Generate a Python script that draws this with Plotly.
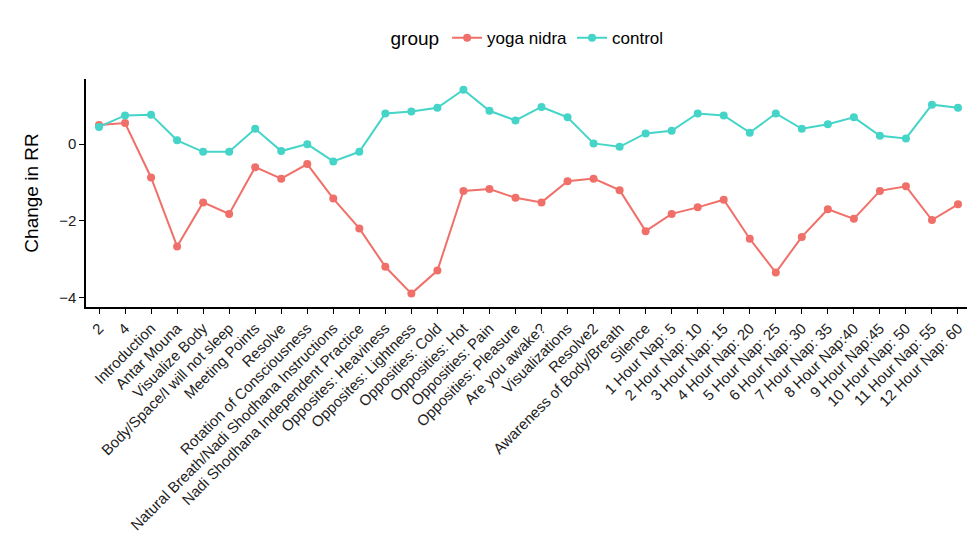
import plotly.graph_objects as go

categories = ["2", "4", "Introduction", "Antar Mouna", "Visualize Body", "Body/Space/I will not sleep",
              "Meeting Points", "Resolve", "Rotation of Consciousness",
              "Natural Breath/Nadi Shodhana Instructions", "Nadi Shodhana Independent Practice",
              "Opposites: Heaviness", "Opposites: Lightness", "Opposities: Cold", "Opposities: Hot",
              "Opposities: Pain", "Opposities: Pleasure", "Are you awake?", "Visualizations", "Resolve2",
              "Awareness of Body/Breath", "Silence", "1 Hour Nap: 5", "2 Hour Nap: 10", "3 Hour Nap: 15",
              "4 Hour Nap: 20", "5 Hour Nap: 25", "6 Hour Nap: 30", "7 Hour Nap: 35", "8 Hour Nap:40",
              "9 Hour Nap:45", "10 Hour Nap: 50", "11 Hour Nap: 55", "12 Hour Nap: 60"]

yoga_nidra = [0.5, 0.55, -0.87, -2.67, -1.52, -1.82, -0.6, -0.9, -0.52, -1.42, -2.2, -3.2, -3.9, -3.3,
              -1.22, -1.17, -1.4, -1.52, -0.97, -0.9, -1.2, -2.27, -1.82, -1.65, -1.45, -2.47, -3.35,
              -2.42, -1.7, -1.95, -1.22, -1.1, -1.98, -1.57]

control = [0.45, 0.75, 0.77, 0.1, -0.2, -0.2, 0.4, -0.18, 0.0, -0.45, -0.2, 0.8, 0.85, 0.95, 1.42,
           0.87, 0.62, 0.97, 0.7, 0.02, -0.07, 0.28, 0.35, 0.8, 0.75, 0.3, 0.8, 0.4, 0.52, 0.7, 0.22,
           0.15, 1.03, 0.95]

fig = go.Figure()
for name, vals, color in [("yoga nidra", yoga_nidra, "#F07069"), ("control", control, "#45D4C8")]:
    fig.add_trace(go.Scatter(x=categories, y=vals, mode="lines+markers", name=name,
                             line=dict(color=color, width=2), marker=dict(color=color, size=8)))

axis_common = dict(showline=True, linecolor="black", linewidth=1.5, ticks="outside",
                   tickcolor="black", showgrid=False, zeroline=False,
                   tickfont=dict(size=15, color="#222"))

fig.update_layout(
    width=975, height=545,
    font=dict(family="Liberation Sans, Arial, sans-serif", color="black"),
    plot_bgcolor="white", paper_bgcolor="white",
    margin=dict(l=78, r=12, t=58, b=246),
    legend=dict(orientation="h", x=0.5, xanchor="center", y=1.1, yanchor="bottom",
                title=dict(text="group", font=dict(size=19)), font=dict(size=17)),
    xaxis=dict(**axis_common, tickangle=-45, range=[-0.5, 33.5]),
    yaxis=dict(**axis_common, title=dict(text="Change in RR", font=dict(size=19)),
               tickvals=[-4, -2, 0], range=[-4.25, 1.7]),
)

fig.write_html("out.html")
